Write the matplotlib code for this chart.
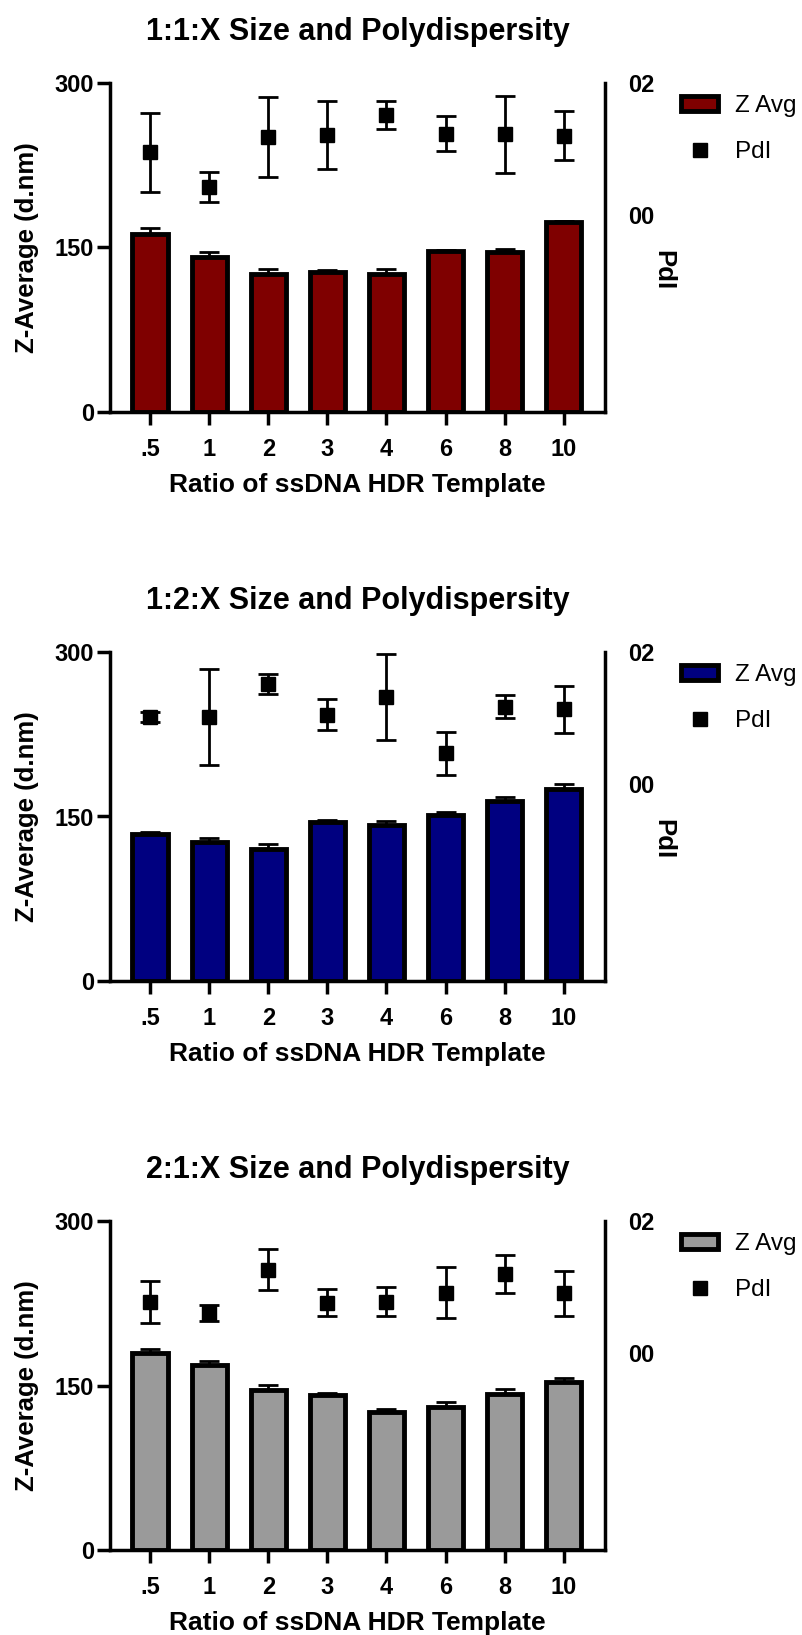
import matplotlib.pyplot as plt
from matplotlib.patches import Patch
from matplotlib.lines import Line2D

plt.rcParams["font.family"] = ["Liberation Sans", "DejaVu Sans"]
plt.rcParams["font.weight"] = "bold"

# ratios of ssDNA HDR template
ratios = [".5", "1", "2", "3", "4", "6", "8", "10"]

# 1:1:X
zavg_11 = [162, 141, 126, 128, 126, 147, 146, 173]
zavg_11_err = [6, 5, 4, 1.5, 4, 1, 3, 1]
pdi_11 = [0.095, 0.042, 0.118, 0.121, 0.151, 0.123, 0.122, 0.120]
pdi_11_err = [0.060, 0.023, 0.061, 0.051, 0.021, 0.027, 0.059, 0.037]

# 1:2:X
zavg_12 = [134, 127, 120, 145, 142, 151, 164, 175]
zavg_12_err = [1.5, 3, 5, 1.5, 3.5, 3, 4, 4.5]
pdi_12 = [0.101, 0.101, 0.151, 0.105, 0.132, 0.046, 0.117, 0.113]
pdi_12_err = [0.008, 0.073, 0.015, 0.024, 0.065, 0.033, 0.017, 0.036]

# 2:1:X
zavg_21 = [180, 169, 146, 141, 126, 130, 142, 153]
zavg_21_err = [3.5, 3.5, 4.5, 2.5, 3, 5, 4.5, 3.5]
pdi_21 = [0.077, 0.060, 0.126, 0.076, 0.077, 0.091, 0.120, 0.090]
pdi_21_err = [0.032, 0.012, 0.031, 0.020, 0.022, 0.039, 0.029, 0.034]

panels = [
    ("1:1:X Size and Polydispersity", zavg_11, zavg_11_err, pdi_11, pdi_11_err, "#7f0000", True),
    ("1:2:X Size and Polydispersity", zavg_12, zavg_12_err, pdi_12, pdi_12_err, "#000080", True),
    ("2:1:X Size and Polydispersity", zavg_21, zavg_21_err, pdi_21, pdi_21_err, "#9a9a9a", False),
]

fig = plt.figure(figsize=(8.03, 16.35), dpi=100)
bottoms = [1 - 412 / 1635, 1 - 981 / 1635, 1 - 1550 / 1635]
ax_h = 329 / 1635
ax_left = 110 / 803
ax_w = 495 / 803

x = list(range(len(ratios)))

for (title, z, zerr, p, perr, color, pdi_label), b in zip(panels, bottoms):
    ax = fig.add_axes([ax_left, b, ax_w, ax_h])
    ax.bar(x, z, width=0.6, color=color, edgecolor="black", linewidth=3.5, zorder=2)
    ax.errorbar(x, z, yerr=[[0] * len(z), zerr], fmt="none", ecolor="black",
                elinewidth=2, capsize=7, capthick=2, zorder=1)
    ax.set_xlim(-0.68, 7.7)
    ax.set_ylim(0, 300)
    ax.set_yticks([0, 150, 300])
    ax.set_xticks(x)
    ax.set_xticklabels(ratios)
    ax.spines["top"].set_visible(False)
    ax.spines["right"].set_visible(False)
    ax.spines["left"].set_linewidth(2.5)
    ax.spines["bottom"].set_linewidth(2.5)
    ax.tick_params(axis="both", length=9.5, width=2.5, labelsize=17, pad=2)
    ax.tick_params(axis="x", pad=9)
    ax.set_title(title, fontsize=22, fontweight="bold", pad=31)
    ax.set_xlabel("Ratio of ssDNA HDR Template", fontsize=19, fontweight="bold", labelpad=9)
    ax.set_ylabel("Z-Average (d.nm)", fontsize=18.5, fontweight="bold")
    ax.yaxis.set_label_coords(-0.143, 0.5)

    ax2 = ax.twinx()
    ax2.errorbar(x, p, yerr=perr, fmt="s", color="black", markersize=10,
                 elinewidth=2, capsize=7, capthick=2)
    ax2.set_ylim(-0.3, 0.2)
    ax2.set_yticks([0.0, 0.2])
    ax2.set_yticklabels(["00", "02"])
    for s in ["top", "left", "bottom"]:
        ax2.spines[s].set_visible(False)
    ax2.spines["right"].set_linewidth(2.5)
    ax2.tick_params(axis="y", length=0, labelsize=17, pad=17)
    if pdi_label:
        ax2.set_ylabel("PdI", fontsize=18.5, fontweight="bold", rotation=270, va="center")
        ax2.yaxis.set_label_coords(1.118, 0.43)

    handles = [
        Patch(facecolor=color, edgecolor="black", linewidth=3.5, label="Z Avg"),
        Line2D([], [], marker="s", color="black", linestyle="none", markersize=10, label="PdI"),
    ]
    ax2.legend(handles=handles, loc="upper left", bbox_to_anchor=(1.12, 1.015),
               frameon=False, prop={"size": 17.5, "weight": "normal"},
               handlelength=1.5, handleheight=0.6, handletextpad=0.7, labelspacing=1.0,
               borderaxespad=0.3)

fig.savefig("out.png", dpi=100)
